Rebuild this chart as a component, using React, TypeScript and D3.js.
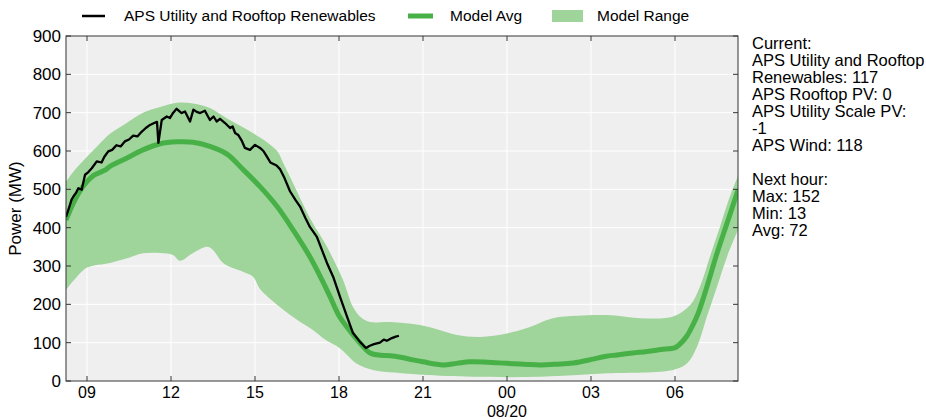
import * as d3 from "d3";
import React from "react";

// hours counted from midnight 08/19 (24+ = next day)
const actualHours = [8.25, 8.36, 8.45, 8.52, 8.6, 8.69, 8.81, 8.93, 9.05, 9.17, 9.35, 9.52, 9.62, 9.76, 9.9, 10.05, 10.2, 10.35, 10.5, 10.65, 10.8, 10.95, 11.1, 11.25, 11.4, 11.5, 11.55, 11.67, 11.85, 11.96, 12.08, 12.2, 12.38, 12.5, 12.68, 12.8, 12.92, 13.04, 13.21, 13.39, 13.52, 13.63, 13.75, 13.93, 14.11, 14.2, 14.29, 14.4, 14.52, 14.64, 14.82, 15.0, 15.18, 15.3, 15.42, 15.55, 15.77, 15.9, 16.05, 16.25, 16.45, 16.61, 16.8, 16.96, 17.21, 17.4, 17.57, 17.79, 18.04, 18.29, 18.5, 18.75, 18.96, 19.1, 19.25, 19.46, 19.6, 19.71, 19.89, 20.0, 20.14];
const actualMW = [428, 452, 473, 482, 490, 503, 499, 538, 545, 555, 573, 570, 585, 599, 603, 615, 612, 625, 630, 640, 638, 650, 660, 668, 673, 676, 621, 681, 690, 686, 700, 710, 699, 703, 677, 708, 702, 699, 705, 681, 690, 677, 684, 673, 660, 664, 647, 642, 628, 608, 603, 616, 608, 600, 586, 570, 562, 552, 530, 495, 472, 455, 425, 402, 376, 340, 308, 272, 219, 167, 125, 102, 86, 92, 96, 100, 108, 105, 112, 115, 118];

const avgHours = [8.25, 8.5, 8.75, 9.0, 9.25, 9.64, 9.82, 10.43, 11.0, 11.61, 12.21, 12.79, 13.39, 14.0, 14.57, 15.18, 15.79, 16.36, 16.96, 17.43, 17.68, 18.0, 18.29, 18.75, 19.11, 19.5, 19.82, 20.2, 20.64, 21.0, 21.71, 22.2, 22.68, 23.3, 24.0, 24.6, 25.18, 25.8, 26.36, 27.07, 27.5, 27.93, 28.5, 29.0, 29.5, 30.0, 30.2, 30.43, 30.65, 30.82, 31.14, 31.5, 31.86, 32.25];
const avgMW = [420, 462, 496, 520, 537, 550, 560, 582, 603, 619, 624, 623, 612, 592, 552, 507, 455, 394, 324, 258, 220, 170, 140, 99, 73, 67, 66, 62, 55, 50, 42, 46, 50, 49, 46, 44, 42, 44, 47, 57, 64, 68, 73, 77, 82, 87, 98, 118, 148, 175, 246, 333, 412, 498];

const upperHours = [8.25, 8.57, 9.0, 9.4, 9.82, 10.43, 11.0, 11.61, 12.21, 12.79, 13.39, 14.0, 14.57, 15.18, 15.79, 16.0, 16.3, 17.0, 17.57, 18.14, 18.5, 18.8, 19.11, 19.82, 20.89, 21.5, 22.21, 23.04, 24.0, 24.71, 25.64, 26.5, 27.57, 28.75, 29.93, 30.54, 30.89, 31.25, 31.61, 31.96, 32.25];
const upperMW = [520, 551, 585, 615, 645, 674, 700, 715, 726, 724, 712, 685, 662, 635, 600, 570, 525, 420, 350, 264, 193, 165, 154, 154, 146, 135, 120, 115, 124, 138, 164, 170, 172, 164, 168, 198, 246, 325, 403, 481, 535];

const lowerHours = [8.25, 8.64, 9.0, 9.82, 10.43, 11.0, 11.61, 12.07, 12.32, 12.79, 13.29, 13.5, 13.86, 14.57, 14.93, 15.18, 15.89, 16.5, 17.07, 17.5, 18.04, 18.64, 19.21, 20.0, 21.0, 22.79, 25.18, 27.57, 29.93, 30.43, 30.79, 31.14, 31.5, 31.86, 32.25];
const lowerMW = [238, 272, 296, 308, 320, 333, 334, 329, 314, 334, 350, 342, 308, 285, 272, 240, 193, 160, 133, 108, 85, 45, 29, 22, 16, 11, 11, 20, 29, 46, 90, 168, 246, 325, 394];

const yTicks = [0, 100, 200, 300, 400, 500, 600, 700, 800, 900];
const legendLabels = ["APS Utility and Rooftop Renewables", "Model Avg", "Model Range"];
const infoLines = ["Current:", "APS Utility and Rooftop", "Renewables: 117", "APS Rooftop PV: 0", "APS Utility Scale PV:", "-1", "APS Wind: 118", "", "Next hour:", "Max: 152", "Min: 13", "Avg: 72"];

const W = 926;
const H = 420;
const plot = { left: 66, right: 738, top: 36, bottom: 381 };
const font = "'Liberation Sans', Arial, sans-serif";
const green = "#47b147";
const band = "#9fd49b";

const base = new Date(2015, 7, 19);
const toDate = (h: number) => new Date(base.getTime() + h * 3600 * 1000);

export default function App() {
  const x = d3.scaleTime().domain([toDate(8.25), toDate(32.25)]).range([plot.left, plot.right]);
  const y = d3.scaleLinear().domain([0, 900]).range([plot.bottom, plot.top]);
  const xTicks = x.ticks(d3.timeHour.every(3) as d3.TimeInterval);

  const line = d3
    .line<[number, number]>()
    .x((d) => x(toDate(d[0])))
    .y((d) => y(d[1]));
  const smooth = d3
    .line<[number, number]>()
    .x((d) => x(toDate(d[0])))
    .y((d) => y(d[1]))
    .curve(d3.curveCatmullRom.alpha(0.5));

  const actual = actualHours.map((h, i) => [h, actualMW[i]] as [number, number]);
  const avg = avgHours.map((h, i) => [h, avgMW[i]] as [number, number]);
  const upper = upperHours.map((h, i) => [h, upperMW[i]] as [number, number]);
  const lower = lowerHours.map((h, i) => [h, lowerMW[i]] as [number, number]).reverse();
  const bandPath = (smooth(upper) || "") + "L" + (smooth(lower) || "").slice(1) + "Z";

  const tick = 5;

  return (
    <svg
      width={W}
      height={H}
      style={{ position: "fixed", left: 0, top: 0, background: "#fff" }}
      fontFamily={font}
    >
      <defs>
        <clipPath id="plotClip">
          <rect x={plot.left} y={plot.top} width={plot.right - plot.left} height={plot.bottom - plot.top} />
        </clipPath>
      </defs>

      {/* Legend */}
      <g fontSize={15.5} fill="#000">
        <line x1={82} x2={105} y1={16} y2={16} stroke="#000" strokeWidth={2.5} />
        <text x={124} y={21}>{legendLabels[0]}</text>
        <line x1={408} x2={433} y1={16} y2={16} stroke={green} strokeWidth={5} />
        <text x={450} y={21}>{legendLabels[1]}</text>
        <rect x={552} y={10} width={31} height={12} fill={band} />
        <text x={597} y={21}>{legendLabels[2]}</text>
      </g>

      {/* Plot background and grid */}
      <rect x={plot.left} y={plot.top} width={plot.right - plot.left} height={plot.bottom - plot.top} fill="#efefef" />
      {yTicks.map((t) => (
        <line key={"gy" + t} x1={plot.left} x2={plot.right} y1={y(t)} y2={y(t)} stroke="#fff" strokeWidth={1} />
      ))}
      {xTicks.map((t, i) => (
        <line key={"gx" + i} x1={x(t)} x2={x(t)} y1={plot.top} y2={plot.bottom} stroke="#fff" strokeWidth={1} />
      ))}

      {/* Data */}
      <g clipPath="url(#plotClip)">
        <path d={bandPath} fill={band} stroke="none" />
        <path d={smooth(avg) || ""} fill="none" stroke={green} strokeWidth={5} />
        <path d={line(actual) || ""} fill="none" stroke="#000" strokeWidth={2.3} strokeLinejoin="round" />
      </g>

      {/* Frame and ticks */}
      <rect
        x={plot.left}
        y={plot.top}
        width={plot.right - plot.left}
        height={plot.bottom - plot.top}
        fill="none"
        stroke="#333"
        strokeWidth={1}
      />
      {yTicks.map((t) => (
        <g key={"ty" + t} stroke="#333">
          <line x1={plot.left} x2={plot.left + tick} y1={y(t)} y2={y(t)} />
          <line x1={plot.right} x2={plot.right - tick} y1={y(t)} y2={y(t)} />
        </g>
      ))}
      {xTicks.map((t, i) => (
        <g key={"tx" + i} stroke="#333">
          <line x1={x(t)} x2={x(t)} y1={plot.bottom} y2={plot.bottom - tick} />
          <line x1={x(t)} x2={x(t)} y1={plot.top} y2={plot.top + tick} />
        </g>
      ))}

      {/* Tick labels */}
      <g fontSize={17} fill="#000">
        {yTicks.map((t) => (
          <text key={"ly" + t} x={plot.left - 5} y={y(t)} dy="0.35em" textAnchor="end">
            {t}
          </text>
        ))}
      </g>
      <g fontSize={16} fill="#000">
        {xTicks.map((t, i) => (
          <text key={"lx" + i} x={x(t)} y={plot.bottom + 17} textAnchor="middle">
            {d3.timeFormat("%H")(t)}
          </text>
        ))}
        {xTicks
          .filter((t) => t.getHours() === 0)
          .map((t, i) => (
            <text key={"ld" + i} x={x(t)} y={plot.bottom + 36} textAnchor="middle">
              {d3.timeFormat("%m/%d")(t)}
            </text>
          ))}
      </g>

      {/* Axis title */}
      <text
        transform={`translate(21,${(plot.top + plot.bottom) / 2}) rotate(-90)`}
        textAnchor="middle"
        fontSize={17}
      >
        Power (MW)
      </text>

      {/* Current readings */}
      <g fontSize={16.5} fill="#000">
        {infoLines.map((s, i) => (
          <text key={"info" + i} x={752} y={49 + i * 17}>
            {s}
          </text>
        ))}
      </g>
    </svg>
  );
}
